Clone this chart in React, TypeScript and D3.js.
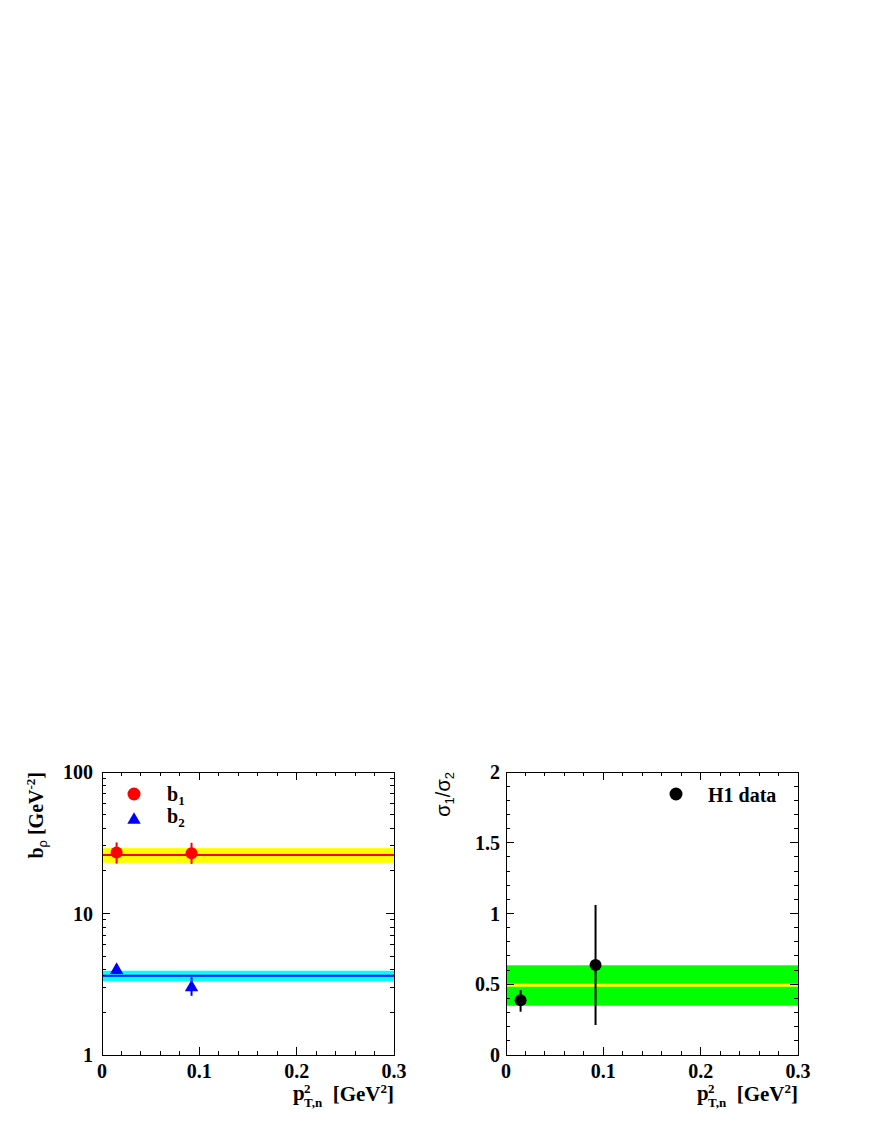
import React from "react";
import * as d3 from "d3";

// p_T,n^2 bin centres (GeV^2)
const ptBins = [0.015, 0.092];

// left panel: slopes b1, b2 (GeV^-2)
const b1Values = [27, 26.7];
const b1Lo = [22.5, 22.4];
const b1Hi = [31.8, 31.6];
const b2Values = [3.98, 3.0];
const b2Lo = [3.8, 2.62];
const b2Hi = [4.15, 3.54];
const b1Fit = 25.9;
const b1Band = [22.8, 29];
const b2Fit = 3.63;
const b2Band = [3.31, 3.94];

// right panel: sigma1/sigma2
const ratioValues = [0.387, 0.636];
const ratioLo = [0.306, 0.212];
const ratioHi = [0.459, 1.06];
const ratioFit = 0.493;
const ratioBand = [0.348, 0.634];

const xTickLabels = ["0", "0.1", "0.2", "0.3"];
const logTickLabels = ["1", "10", "100"];
const linTickLabels = ["0", "0.5", "1", "1.5", "2"];

const SERIF = "'Liberation Serif', 'Times New Roman', serif";
const SANS = "'Liberation Sans', Arial, sans-serif";

const TOP = 772;
const BOTTOM = 1055;

const Frame = ({ x, y, yMajor, yMinor }: any) => {
  const [x0, x1] = x.range();
  const xMinor = x.ticks(15);
  const xMajor = x.ticks(3);
  const major = 8;
  const minor = 4;
  return (
    <g stroke="#000" strokeWidth={1} fill="none" shapeRendering="crispEdges">
      {xMinor.map((t: number, i: number) => {
        const len = xMajor.some((m: number) => Math.abs(m - t) < 1e-9) ? major : minor;
        return (
          <g key={"x" + i}>
            <line x1={x(t)} x2={x(t)} y1={BOTTOM} y2={BOTTOM - len} />
            <line x1={x(t)} x2={x(t)} y1={TOP} y2={TOP + len} />
          </g>
        );
      })}
      {yMinor.map((t: number, i: number) => {
        const len = yMajor.some((m: number) => Math.abs(m - t) < 1e-9) ? major : minor;
        return (
          <g key={"y" + i}>
            <line x1={x0} x2={x0 + len} y1={y(t)} y2={y(t)} />
            <line x1={x1} x2={x1 - len} y1={y(t)} y2={y(t)} />
          </g>
        );
      })}
      <rect x={x0} y={TOP} width={x1 - x0} height={BOTTOM - TOP} />
    </g>
  );
};

const XLabel = ({ right }: { right: number }) => (
  <g fontFamily={SERIF} fontWeight="bold" fill="#000">
    <text x={right - 101} y={1100} fontSize={21}>p</text>
    <text x={right - 90} y={1093} fontSize={13}>2</text>
    <text x={right - 90} y={1107} fontSize={13}>T,n</text>
    <text x={right} y={1101} fontSize={21} textAnchor="end">
      [GeV<tspan fontSize={13} dy={-8}>2</tspan>
      <tspan dy={8}>]</tspan>
    </text>
  </g>
);

export default function App() {
  const xL = d3.scaleLinear().domain([0, 0.3]).range([102, 394]);
  const yL = d3.scaleLog().domain([1, 100]).range([BOTTOM, TOP]);
  const xR = d3.scaleLinear().domain([0, 0.3]).range([506, 798]);
  const yR = d3.scaleLinear().domain([0, 2]).range([BOTTOM, TOP]);

  const logMinor = yL.ticks();
  const logMajor = logMinor.filter((t) => Number.isInteger(Math.log10(t)));
  const linMinor = yR.ticks(20);
  const linMajor = yR.ticks(4);

  const tri = d3.symbol(d3.symbolTriangle, 78)();

  return (
    <svg
      width={872}
      height={1128}
      style={{ position: "absolute", left: 0, top: 0, background: "#fff" }}
    >
      {/* ---------- left panel ---------- */}
      <rect x={xL(0)} y={yL(b1Band[1])} width={xL(0.3) - xL(0)} height={yL(b1Band[0]) - yL(b1Band[1])} fill="#ffff00" />
      <line x1={xL(0)} x2={xL(0.3)} y1={yL(b1Fit)} y2={yL(b1Fit)} stroke="#ff0000" strokeWidth={2} />
      <rect x={xL(0)} y={yL(b2Band[1])} width={xL(0.3) - xL(0)} height={yL(b2Band[0]) - yL(b2Band[1])} fill="#00ffff" />
      <line x1={xL(0)} x2={xL(0.3)} y1={yL(b2Fit)} y2={yL(b2Fit)} stroke="#0000ff" strokeWidth={2} />

      {ptBins.map((p, i) => (
        <g key={"b1" + i}>
          <line x1={xL(p)} x2={xL(p)} y1={yL(b1Lo[i])} y2={yL(b1Hi[i])} stroke="#ff0000" strokeWidth={2} />
          <circle cx={xL(p)} cy={yL(b1Values[i])} r={6} fill="#ff0000" />
        </g>
      ))}
      {ptBins.map((p, i) => (
        <g key={"b2" + i}>
          <line x1={xL(p)} x2={xL(p)} y1={yL(b2Lo[i])} y2={yL(b2Hi[i])} stroke="#0000ff" strokeWidth={2} />
          <path d={tri || ""} transform={`translate(${xL(p)},${yL(b2Values[i])})`} fill="#0000ff" />
        </g>
      ))}

      <Frame x={xL} y={yL} yMajor={logMajor} yMinor={logMinor} />

      <g fontFamily={SERIF} fontWeight="bold" fontSize={20} fill="#000">
        {logMajor.map((t, i) => (
          <text key={t} x={93} y={yL(t)} dy="0.35em" textAnchor="end">{logTickLabels[i]}</text>
        ))}
        {xL.ticks(3).map((t, i) => (
          <text key={t} x={xL(t)} y={1078} textAnchor="middle">{xTickLabels[i]}</text>
        ))}
      </g>

      {/* legend */}
      <circle cx={134} cy={794} r={6.5} fill="#ff0000" />
      <path d={tri || ""} transform="translate(134,820)" fill="#0000ff" />
      <g fontFamily={SERIF} fontWeight="bold" fill="#000">
        <text x={167} y={801} fontSize={20}>b<tspan fontSize={13} dy={4}>1</tspan></text>
        <text x={167} y={823} fontSize={20}>b<tspan fontSize={13} dy={4}>2</tspan></text>
      </g>

      <text
        transform={`translate(43,${TOP}) rotate(-90)`}
        textAnchor="end"
        fontFamily={SERIF}
        fontWeight="bold"
        fontSize={20}
        fill="#000"
      >
        b<tspan fontSize={13} dy={4} fontFamily={SANS} fontWeight="normal">ρ</tspan>
        <tspan dy={-4}> [GeV</tspan>
        <tspan fontSize={13} dy={-8}>-2</tspan>
        <tspan dy={8}>]</tspan>
      </text>
      <XLabel right={394} />

      {/* ---------- right panel ---------- */}
      <rect x={xR(0)} y={yR(ratioBand[1])} width={xR(0.3) - xR(0)} height={yR(ratioBand[0]) - yR(ratioBand[1])} fill="#00ff00" />
      <line x1={xR(0)} x2={xR(0.3)} y1={yR(ratioFit)} y2={yR(ratioFit)} stroke="#ffff00" strokeWidth={3} />

      {ptBins.map((p, i) => (
        <g key={"r" + i}>
          <line x1={xR(p)} x2={xR(p)} y1={yR(ratioLo[i])} y2={yR(ratioHi[i])} stroke="#000" strokeWidth={2} />
          <circle cx={xR(p)} cy={yR(ratioValues[i])} r={6} fill="#000" />
        </g>
      ))}

      <Frame x={xR} y={yR} yMajor={linMajor} yMinor={linMinor} />

      <g fontFamily={SERIF} fontWeight="bold" fontSize={20} fill="#000">
        {linMajor.map((t, i) => (
          <text key={t} x={500} y={yR(t)} dy="0.35em" textAnchor="end">{linTickLabels[i]}</text>
        ))}
        {xR.ticks(3).map((t, i) => (
          <text key={t} x={xR(t)} y={1078} textAnchor="middle">{xTickLabels[i]}</text>
        ))}
      </g>

      <circle cx={676} cy={794} r={6.5} fill="#000" />
      <text x={708} y={802} fontFamily={SERIF} fontWeight="bold" fontSize={20} fill="#000">H1 data</text>

      <text
        transform={`translate(450,${TOP}) rotate(-90)`}
        textAnchor="end"
        fontFamily={SANS}
        fontSize={20}
        fill="#000"
      >
        σ<tspan fontSize={13} dy={4}>1</tspan>
        <tspan dy={-4}>/σ</tspan>
        <tspan fontSize={13} dy={4}>2</tspan>
      </text>
      <XLabel right={798} />
    </svg>
  );
}
